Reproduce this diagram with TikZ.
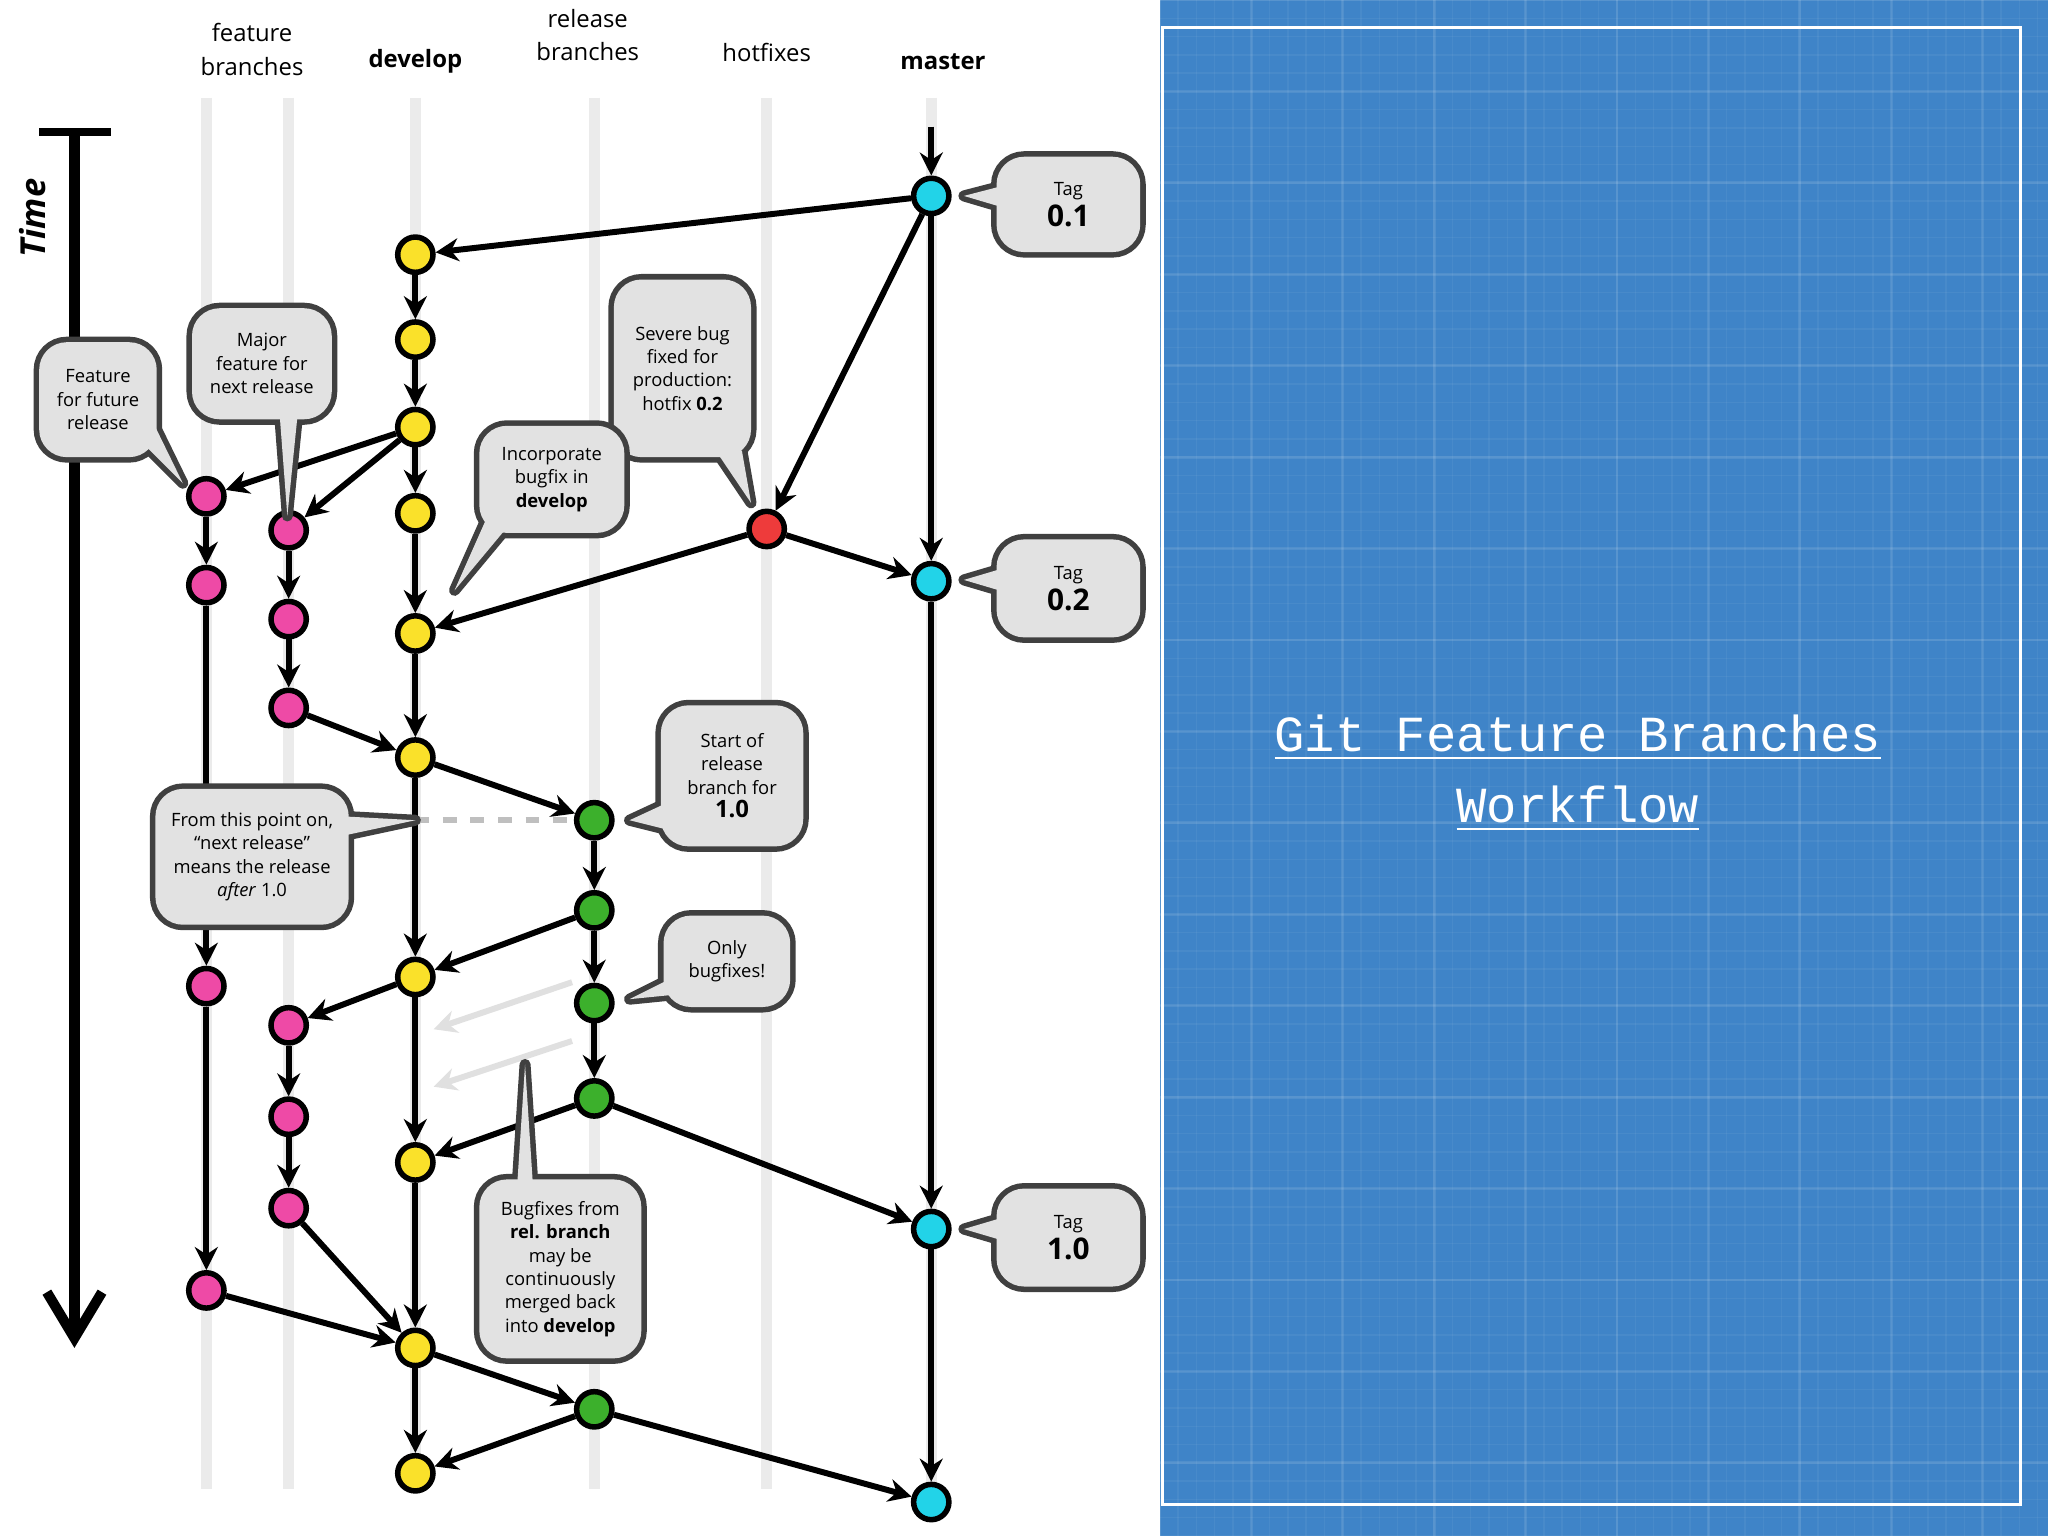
\documentclass[tikz,border=0pt]{standalone}
\usepackage{fontspec}
\setmainfont{Open Sans}
\newfontfamily\monof{Liberation Mono}
\usetikzlibrary{arrows.meta}
\definecolor{bp}{HTML}{3F84C8}
\definecolor{cy}{HTML}{22D3E8}
\definecolor{ye}{HTML}{FAE12A}
\definecolor{pk}{HTML}{EE4AA6}
\definecolor{gr}{HTML}{3CB02C}
\definecolor{rd}{HTML}{EE3B3B}
\definecolor{cb}{HTML}{E2E2E2}
\tikzset{
 cmt/.style={circle,draw=black,line width=1.2pt,minimum size=0.27cm,inner sep=0pt},
 ar/.style={-{Stealth[length=5pt,width=5pt]},line width=1.3pt,black},
 lane/.style={line width=2.5pt,black!8},
 ctext/.style={font=\fontsize{4.0}{5.1}\selectfont,align=center},
 hd/.style={font=\fontsize{5.2}{7.3}\selectfont,align=center},
}
\newcommand{\mycall}[7]{%
 \draw[line width=2.4pt,black!75,rounded corners=6] (#1,#2) rectangle (#3,#4);
 \draw[line width=2.4pt,black!75,line join=round] #5 -- cycle;
 \fill[cb,rounded corners=6] (#1,#2) rectangle (#3,#4);
 \fill[cb] #5 -- cycle;
 \node[ctext] (#6) at ({(#1+#3)/2},{(#2+#4)/2}) {#7};}
\begin{document}
\begin{tikzpicture}[x=0.01cm,y=-0.01cm]
\useasboundingbox (0,0) rectangle (1568,1176);
\fill[white] (0,0) rectangle (888,1176);
\fill[bp] (888,0) rectangle (1568,1176);
\foreach \i in {0,...,48} {\draw[white,opacity=0.05,line width=0.3pt] ({888+14*\i},0) -- ({888+14*\i},1176);}
\foreach \i in {0,...,84} {\draw[white,opacity=0.05,line width=0.3pt] (888,{14*\i}) -- (1568,{14*\i});}
\foreach \i in {0,...,9} {\draw[white,opacity=0.09,line width=0.6pt] ({888+70*\i},0) -- ({888+70*\i},1176);}
\foreach \i in {0,...,16} {\draw[white,opacity=0.09,line width=0.6pt] (888,{70*\i}) -- (1568,{70*\i});}
\draw[white,line width=0.8pt] (890,21) rectangle (1547,1152);
\node[white,font=\monof\fontsize{11}{15.5}\selectfont,align=center] (title) at (1208,592)
 {\underline{Git Feature Branches}\\\underline{Workflow}};
\foreach \x in {158,221,318,455,587,713} {\draw[lane] (\x,75) -- (\x,1140);}
\node[hd] (h1) at (193,38) {feature\\branches};
\node[hd,font=\bfseries\fontsize{5.2}{7.3}\selectfont] (h2) at (318,47) {develop};
\node[hd] (h3) at (450,27) {release\\branches};
\node[hd] (h4) at (587,40) {hotfixes};
\node[hd,font=\bfseries\fontsize{5.2}{7.3}\selectfont] (h5) at (722,47) {master};
\coordinate (t0) at (57,100); \coordinate (t1) at (57,1032);
\draw[line width=1.8pt] (30,101) -- (85,101);
\draw[-{Straight Barb[length=10pt,width=12pt]},line width=2.2pt] (t0) -- (t1);
\node[rotate=90,font=\bfseries\itshape\fontsize{7.5}{9}\selectfont] (time) at (25,167) {Time};
\foreach \n/\y in {1/150,2/445,3/941,4/1150} {\node[cmt,fill=cy] (m\n) at (713,\y) {};}
\foreach \n/\y in {1/195,2/260,3/327,4/393,5/485,6/580,7/748,8/890,9/1032,10/1128} {\node[cmt,fill=ye] (d\n) at (318,\y) {};}
\foreach \n/\y in {1/380,2/448,3/755,4/988} {\node[cmt,fill=pk] (a\n) at (158,\y) {};}
\foreach \n/\y in {1/406,2/474,3/542,4/785,5/855,6/925} {\node[cmt,fill=pk] (b\n) at (221,\y) {};}
\foreach \n/\y in {1/628,2/697,3/768,4/841,5/1079} {\node[cmt,fill=gr] (r\n) at (455,\y) {};}
\node[cmt,fill=rd] (h) at (587,405) {};
\coordinate (mtop) at (713,97);
\draw[ar] (mtop) -- (m1);
\draw[ar] (m1) -- (d1);
\draw[ar] (m1) -- (m2); \draw[ar] (m2) -- (m3); \draw[ar] (m3) -- (m4);
\draw[ar] (m1) -- (h);
\draw[ar] (h) -- (m2); \draw[ar] (h) -- (d5);
\foreach \a/\b in {1/2,2/3,3/4,4/5,5/6,6/7,7/8,8/9,9/10} {\draw[ar] (d\a) -- (d\b);}
\draw[ar] (d3) -- (a1); \draw[ar] (d3) -- (b1);
\draw[ar] (a1) -- (a2); \draw[ar] (a2) -- (a3); \draw[ar] (a3) -- (a4);
\draw[ar] (b1) -- (b2); \draw[ar] (b2) -- (b3); \draw[ar] (b3) -- (d6);
\draw[ar] (d6) -- (r1);
\draw[ar] (r1) -- (r2); \draw[ar] (r2) -- (r3); \draw[ar] (r3) -- (r4);
\draw[ar] (r2) -- (d7); \draw[ar] (r4) -- (d8); \draw[ar] (r4) -- (m3);
\draw[ar] (d7) -- (b4);
\draw[ar] (b4) -- (b5); \draw[ar] (b5) -- (b6);
\draw[ar] (b6) -- (d9); \draw[ar] (a4) -- (d9);
\draw[ar] (d9) -- (r5); \draw[ar] (r5) -- (d10); \draw[ar] (r5) -- (m4);
\coordinate (f1a) at (438,752); \coordinate (f1b) at (332,788);
\coordinate (f2a) at (438,797); \coordinate (f2b) at (332,832);
\draw[ar,black!12] (f1a) -- (f1b); \draw[ar,black!12] (f2a) -- (f2b);
\draw[black!25,dashed,line width=1.2pt] (d6 |- r1) -- (r1);
\mycall{763}{120}{873}{193}{(765,143) -- (738,150) -- (765,158)}{c1}{Tag\\{\bfseries\fontsize{6.5}{7}\selectfont 0.1}}
\mycall{763}{413}{873}{488}{(765,436) -- (738,444) -- (765,452)}{c2}{Tag\\{\bfseries\fontsize{6.5}{7}\selectfont 0.2}}
\mycall{763}{910}{873}{985}{(765,933) -- (738,941) -- (765,949)}{c3}{Tag\\{\bfseries\fontsize{6.5}{7}\selectfont 1.0}}
\mycall{30}{262}{120}{350}{(110,340) -- (140,370) -- (118,325)}{c4}{Feature\\for future\\release}
\mycall{147}{236}{254}{321}{(214,316) -- (220,395) -- (228,316)}{c5}{Major\\feature for\\next release}
\mycall{470}{214}{575}{350}{(548,345) -- (575,385) -- (568,345)}{c6}{Severe bug\\fixed for\\production:\\hotfix \textbf{0.2}}
\mycall{367}{326}{478}{408}{(372,398) -- (348,452) -- (388,404)}{c7}{Incorporate\\bugfix in\\\textbf{develop}}
\mycall{506}{540}{615}{648}{(510,615) -- (482,628) -- (510,635)}{c8}{Start of\\release\\branch for\\{\bfseries\fontsize{5.2}{6}\selectfont 1.0}}
\mycall{119}{604}{267}{708}{(262,625) -- (318,628) -- (262,640)}{c9}{From this point on,\\“next release”\\means the release\\\textit{after} 1.0}
\mycall{508}{701}{605}{771}{(512,750) -- (482,765) -- (512,762)}{c10}{Only\\bugfixes!}
\mycall{367}{903}{491}{1040}{(396,907) -- (402,815) -- (408,907)}{c11}{Bugfixes from\\\textbf{rel. branch}\\may be\\continuously\\merged back\\into \textbf{develop}}
\end{tikzpicture}
\end{document}
